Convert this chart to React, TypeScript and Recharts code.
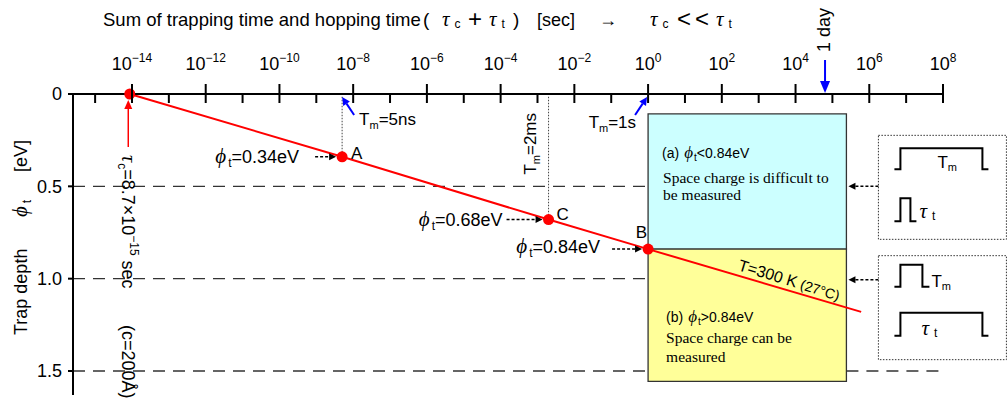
import React from 'react';
import {
  ComposedChart,
  Line,
  XAxis,
  YAxis,
  ReferenceLine,
  ReferenceArea,
  ReferenceDot,
} from 'recharts';

// Time axis: exponents of ten (seconds)
const timeExponents = [-15, -14, -13, -12, -11, -10, -9, -8, -7, -6, -5, -4, -3, -2, -1, 0, 1, 2, 3, 4, 5, 6, 7, 8];
const xDomain: [number, number] = [-15.6, 8];

// Trap depth axis (eV)
const depthTicks = [0, 0.5, 1.0, 1.5];
const depthTickLabels = ['0', '0.5', '1.0', '1.5'];
const gridDepths = [0.5, 1.0, 1.5];
const yDomain: [number, number] = [0, 1.63];

// T = 300 K line: log10(time) against trap depth
const pointNames = ['', 'A', 'C', 'B', ''];
const logTimes = [-14.06, -8.3, -2.7, 0, 5.78];
const trapDepths = [0, 0.34, 0.68, 0.84, 1.18];
const depthLabels = ['', '=0.34eV', '=0.68eV', '=0.84eV', ''];
const measureTimes = ['', '=5ns', '=2ms', '=1s', ''];

// Regions and markers
const logOneDay = 4.8;
const regionTop = 0.108;
const regionBottom = 1.556;
const regionRightLog = 5.38;
const lineLabelLog = 3.73;
const lineLabelDepth = 1.063;

const lineData = logTimes.map((t, i) => ({ logT: t, depth: trapDepths[i] }));

const SANS = "'Liberation Sans', Arial, sans-serif";
const GREEK = "'Liberation Serif', 'DejaVu Serif', serif";
const SERIF = "'Liberation Serif', 'Times New Roman', serif";
const RED = '#ff0000';
const BLUE = '#0000ff';
const PHI = '\u03d5';
const TAU = '\u03c4';

function Arrow({ x1, y1, x2, y2, color, width = 2, dash, head = 9, headW = 4.5 }: any) {
  const ang = Math.atan2(y2 - y1, x2 - x1);
  const bx = x2 - head * Math.cos(ang);
  const by = y2 - head * Math.sin(ang);
  const px = -Math.sin(ang) * headW;
  const py = Math.cos(ang) * headW;
  return (
    <g>
      <line x1={x1} y1={y1} x2={bx} y2={by} stroke={color} strokeWidth={width} strokeDasharray={dash} />
      <polygon points={`${x2},${y2} ${bx + px},${by + py} ${bx - px},${by - py}`} fill={color} />
    </g>
  );
}

function TimeTick(props: any) {
  const { x, y, payload } = props;
  const v = payload.value as number;
  const major = Math.abs(v) % 2 === 0;
  const sup = v < 0 ? `\u2212${Math.abs(v)}` : `${v}`;
  return (
    <g>
      <line x1={x} x2={x} y1={major ? y - 10 : y} y2={y + 9} stroke="#000" strokeWidth={2} />
      {major && (
        <text x={x} y={y - 24} textAnchor="middle" fontSize={18} fontFamily={SANS} fill="#000">
          10
          <tspan fontSize={12} dy={-8}>{sup}</tspan>
        </text>
      )}
    </g>
  );
}

function DepthTick(props: any) {
  const { x, y, payload } = props;
  const idx = depthTicks.indexOf(payload.value);
  return (
    <g>
      <line x1={x - 5} x2={x} y1={y} y2={y} stroke="#000" strokeWidth={2} />
      <text x={x - 11} y={y} dy="0.35em" textAnchor="end" fontSize={18} fontFamily={SANS} fill="#000">
        {depthTickLabels[idx]}
      </text>
    </g>
  );
}

function Pulse({ x0, x1, x2, x3, top, base }: any) {
  return (
    <polyline
      points={`${x0},${base} ${x1},${base} ${x1},${top} ${x2},${top} ${x2},${base} ${x3},${base}`}
      fill="none"
      stroke="#000"
      strokeWidth={2}
    />
  );
}

function PhiLabel({ x, y, text, anchor = 'end' }: any) {
  return (
    <text x={x} y={y} dy="0.35em" textAnchor={anchor} fontSize={18} fontFamily={SANS} fill="#000">
      <tspan fontFamily={GREEK} fontStyle="italic" fontSize={21}>{PHI}</tspan>
      <tspan fontSize={12} dx={2} dy={4}>t</tspan>
      <tspan dy={-4}>{text}</tspan>
    </text>
  );
}

function TauSub({ x, y, sub, size = 21 }: any) {
  return (
    <text x={x} y={y} fontSize={size} fontFamily={GREEK} fontStyle="italic" fill="#000">
      {TAU}
      <tspan fontSize={12} fontFamily={SANS} fontStyle="normal" dx={5} dy={2}>{sub}</tspan>
    </text>
  );
}

export default function App() {
  return (
    <div style={{ position: 'absolute', left: 0, top: 0, width: 1008, height: 403, background: '#fff' }}>
      <ComposedChart
        width={1008}
        height={403}
        data={lineData}
        margin={{ top: 93, right: 65, bottom: 8, left: 72 }}
      >
        <XAxis
          type="number"
          dataKey="logT"
          orientation="top"
          domain={xDomain}
          ticks={timeExponents}
          interval={0}
          height={1}
          tickSize={0}
          tickMargin={0}
          tickLine={false}
          axisLine={{ stroke: '#000', strokeWidth: 2 }}
          tick={(p: any) => <TimeTick {...p} />}
        />
        <YAxis
          type="number"
          domain={yDomain}
          reversed
          ticks={depthTicks}
          interval={0}
          width={1}
          tickSize={0}
          tickMargin={0}
          tickLine={false}
          axisLine={{ stroke: '#000', strokeWidth: 2 }}
          tick={(p: any) => <DepthTick {...p} />}
        />

        {/* dashed depth guides */}
        {gridDepths.map((d) => (
          <ReferenceLine
            key={`g${d}`}
            segment={[{ x: xDomain[0], y: d }, { x: 0, y: d }]}
            stroke="#333"
            strokeWidth={1.3}
            strokeDasharray="12 8"
            ifOverflow="visible"
          />
        ))}
        <ReferenceLine
          segment={[{ x: regionRightLog, y: 1.5 }, { x: xDomain[1], y: 1.5 }]}
          stroke="#333"
          strokeWidth={1.3}
          strokeDasharray="12 8"
          ifOverflow="visible"
        />

        {/* measurement regions */}
        <ReferenceArea
          x1={0}
          x2={regionRightLog}
          y1={regionTop}
          y2={trapDepths[3]}
          fill="#ccffff"
          fillOpacity={1}
          stroke="#333"
          strokeWidth={1.3}
          ifOverflow="visible"
        />
        <ReferenceArea
          x1={0}
          x2={regionRightLog}
          y1={trapDepths[3]}
          y2={regionBottom}
          fill="#ffff99"
          fillOpacity={1}
          stroke="#333"
          strokeWidth={1.3}
          ifOverflow="visible"
        />

        {/* dotted guides from A and C to the time axis */}
        {[1, 2].map((i) => (
          <ReferenceLine
            key={`v${i}`}
            segment={[{ x: logTimes[i], y: 0.015 }, { x: logTimes[i], y: trapDepths[i] }]}
            stroke="#444"
            strokeWidth={1}
            strokeDasharray="1.5 1.5"
            ifOverflow="visible"
          />
        ))}

        <Line
          type="linear"
          dataKey="depth"
          stroke={RED}
          strokeWidth={2}
          isAnimationActive={false}
          dot={(p: any) =>
            p.index < 4 ? (
              <circle key={`d${p.index}`} cx={p.cx} cy={p.cy} r={5.5} fill={RED} stroke="none" />
            ) : (
              <g key={`d${p.index}`} />
            )
          }
          activeDot={false}
        />

        {/* tau_c marker at the start of the line */}
        <ReferenceDot
          x={logTimes[0]}
          y={trapDepths[0]}
          ifOverflow="visible"
          shape={(p: any) => (
            <g>
              <Arrow x1={p.cx - 1.5} y1={p.cy + 53} x2={p.cx - 1.5} y2={p.cy + 6} color={RED} width={1.5} head={9} headW={4} />
              <text
                transform={`translate(${p.cx - 8},${p.cy + 61}) rotate(90)`}
                fontSize={18}
                fontFamily={SANS}
                fill="#000"
              >
                <tspan fontFamily={GREEK} fontStyle="italic" fontSize={20}>{TAU}</tspan>
                <tspan fontSize={12} dx={1} dy={4}>c</tspan>
                <tspan dy={-4}>=8.7×10</tspan>
                <tspan fontSize={12} dy={-8}>{'\u221215'}</tspan>
                <tspan dy={8}> sec</tspan>
                <tspan x={170}>(c=200Å)</tspan>
              </text>
            </g>
          )}
        />

        {/* A : phi label, point letter, Tm = 5ns */}
        <ReferenceDot
          x={logTimes[1]}
          y={trapDepths[1]}
          ifOverflow="visible"
          shape={(p: any) => (
            <g>
              <PhiLabel x={p.cx - 43} y={p.cy} text={depthLabels[1]} />
              <Arrow x1={p.cx - 27} y1={p.cy} x2={p.cx - 6} y2={p.cy} color="#000" width={1.5} dash="3 2" head={7} headW={3.5} />
              <text x={p.cx + 9} y={p.cy - 4} dy="0.35em" fontSize={17} fontFamily={SANS} fill="#000">{pointNames[1]}</text>
            </g>
          )}
        />
        <ReferenceDot
          x={logTimes[1]}
          y={0}
          ifOverflow="visible"
          shape={(p: any) => (
            <g>
              <Arrow x1={p.cx + 12} y1={p.cy + 21} x2={p.cx} y2={p.cy + 3} color={BLUE} width={2} head={8} headW={4} />
              <text x={p.cx + 17} y={p.cy + 31} fontSize={17} fontFamily={SANS} fill="#000">
                T<tspan fontSize={11} dy={4}>m</tspan>
                <tspan dy={-4}>{measureTimes[1]}</tspan>
              </text>
            </g>
          )}
        />

        {/* C : phi label, point letter, Tm = 2ms */}
        <ReferenceDot
          x={logTimes[2]}
          y={trapDepths[2]}
          ifOverflow="visible"
          shape={(p: any) => (
            <g>
              <PhiLabel x={p.cx - 46} y={p.cy} text={depthLabels[2]} />
              <Arrow x1={p.cx - 42} y1={p.cy} x2={p.cx - 6} y2={p.cy} color="#000" width={1.5} dash="3 2" head={7} headW={3.5} />
              <text x={p.cx + 8} y={p.cy - 6} dy="0.35em" fontSize={17} fontFamily={SANS} fill="#000">{pointNames[2]}</text>
              <text
                transform={`translate(${p.cx - 13},${p.cy - 45}) rotate(-90)`}
                fontSize={17}
                fontFamily={SANS}
                fill="#000"
              >
                T<tspan fontSize={11} dy={4}>m</tspan>
                <tspan dy={-4}>{measureTimes[2]}</tspan>
              </text>
            </g>
          )}
        />

        {/* B : phi label, point letter */}
        <ReferenceDot
          x={logTimes[3]}
          y={trapDepths[3]}
          ifOverflow="visible"
          shape={(p: any) => (
            <g>
              <PhiLabel x={p.cx - 48} y={p.cy - 2} text={depthLabels[3]} />
              <Arrow x1={p.cx - 36} y1={p.cy} x2={p.cx - 6} y2={p.cy} color="#000" width={1.5} dash="3 2" head={7} headW={3.5} />
              <text x={p.cx - 1} y={p.cy - 17} dy="0.35em" textAnchor="end" fontSize={17} fontFamily={SANS} fill="#000">
                {pointNames[3]}
              </text>
            </g>
          )}
        />

        {/* Tm = 1s */}
        <ReferenceDot
          x={logTimes[3]}
          y={0}
          ifOverflow="visible"
          shape={(p: any) => (
            <g>
              <Arrow x1={p.cx - 13} y1={p.cy + 21} x2={p.cx - 1} y2={p.cy + 3} color={BLUE} width={2} head={8} headW={4} />
              <text x={p.cx - 12} y={p.cy + 34} textAnchor="end" fontSize={17} fontFamily={SANS} fill="#000">
                T<tspan fontSize={11} dy={4}>m</tspan>
                <tspan dy={-4}>{measureTimes[3]}</tspan>
              </text>
            </g>
          )}
        />

        {/* 1 day */}
        <ReferenceDot
          x={logOneDay}
          y={0}
          ifOverflow="visible"
          shape={(p: any) => (
            <g>
              <Arrow x1={p.cx} y1={p.cy - 34} x2={p.cx} y2={p.cy - 1} color={BLUE} width={2} head={12} headW={5} />
              <text
                transform={`translate(${p.cx + 5},${p.cy - 42}) rotate(-90)`}
                fontSize={18}
                fontFamily={SANS}
                fill="#000"
              >
                1 day
              </text>
            </g>
          )}
        />

        {/* line temperature label */}
        <ReferenceDot
          x={lineLabelLog}
          y={lineLabelDepth}
          ifOverflow="visible"
          shape={(p: any) => (
            <text
              transform={`translate(${p.cx + 2},${p.cy - 5}) rotate(17)`}
              textAnchor="middle"
              fontSize={16}
              fontFamily={SANS}
              fill="#000"
            >
              T=300 K<tspan fontSize={14}> (27°C)</tspan>
            </text>
          )}
        />

        {/* region (a) text */}
        <ReferenceDot
          x={0}
          y={regionTop}
          ifOverflow="visible"
          shape={(p: any) => (
            <g>
              <text x={p.cx + 14} y={p.cy + 44} fontSize={14} fontFamily={SANS} fill="#000">
                (a)
                <tspan dx={5} fontFamily={GREEK} fontStyle="italic" fontSize={17}>{PHI}</tspan>
                <tspan fontSize={10} dx={1} dy={3}>t</tspan>
                <tspan dy={-3}>&lt;0.84eV</tspan>
              </text>
              <text x={p.cx + 15} y={p.cy + 69} fontSize={15.5} fontFamily={SERIF} fill="#000">
                Space charge is difficult to
              </text>
              <text x={p.cx + 15} y={p.cy + 86} fontSize={15.5} fontFamily={SERIF} fill="#000">
                be measured
              </text>
            </g>
          )}
        />

        {/* region (b) text */}
        <ReferenceDot
          x={0}
          y={trapDepths[3]}
          ifOverflow="visible"
          shape={(p: any) => (
            <g>
              <text x={p.cx + 18} y={p.cy + 73} fontSize={14} fontFamily={SANS} fill="#000">
                (b)
                <tspan dx={5} fontFamily={GREEK} fontStyle="italic" fontSize={17}>{PHI}</tspan>
                <tspan fontSize={10} dx={1} dy={3}>t</tspan>
                <tspan dy={-3}>&gt;0.84eV</tspan>
              </text>
              <text x={p.cx + 18} y={p.cy + 94} fontSize={15.5} fontFamily={SERIF} fill="#000">
                Space charge can be
              </text>
              <text x={p.cx + 18} y={p.cy + 113} fontSize={15.5} fontFamily={SERIF} fill="#000">
                measured
              </text>
            </g>
          )}
        />

        {/* pulse comparison, shallow traps */}
        <ReferenceDot
          x={regionRightLog}
          y={gridDepths[0]}
          ifOverflow="visible"
          shape={(p: any) => (
            <g>
              <rect x={p.cx + 32} y={p.cy - 51} width={128} height={104} fill="#fff" stroke="#333" strokeWidth={1} strokeDasharray="1.5 1.5" />
              <Arrow x1={p.cx + 32} y1={p.cy} x2={p.cx + 2} y2={p.cy} color="#000" width={1.5} dash="3 2" head={7} headW={3.5} />
              <Pulse x0={p.cx + 48} x1={p.cx + 54} x2={p.cx + 136} x3={p.cx + 142} top={p.cy - 38} base={p.cy - 17} />
              <text x={p.cx + 91} y={p.cy - 18} fontSize={17} fontFamily={SANS} fill="#000">
                T<tspan fontSize={11} dy={3}>m</tspan>
              </text>
              <Pulse x0={p.cx + 48} x1={p.cx + 54} x2={p.cx + 64} x3={p.cx + 70} top={p.cy + 12} base={p.cy + 35} />
              <TauSub x={p.cx + 73} y={p.cy + 32} sub="t" />
            </g>
          )}
        />

        {/* pulse comparison, deep traps */}
        <ReferenceDot
          x={regionRightLog}
          y={gridDepths[1]}
          ifOverflow="visible"
          shape={(p: any) => (
            <g>
              <rect x={p.cx + 32} y={p.cy - 23} width={128} height={104} fill="#fff" stroke="#333" strokeWidth={1} strokeDasharray="1.5 1.5" />
              <Arrow x1={p.cx + 32} y1={p.cy + 1} x2={p.cx + 2} y2={p.cy + 1} color="#000" width={1.5} dash="3 2" head={7} headW={3.5} />
              <Pulse x0={p.cx + 48} x1={p.cx + 54} x2={p.cx + 76} x3={p.cx + 83} top={p.cy - 14} base={p.cy + 8} />
              <text x={p.cx + 85} y={p.cy + 8} fontSize={17} fontFamily={SANS} fill="#000">
                T<tspan fontSize={11} dy={3}>m</tspan>
              </text>
              <Pulse x0={p.cx + 48} x1={p.cx + 54} x2={p.cx + 136} x3={p.cx + 142} top={p.cy + 34} base={p.cy + 57} />
              <TauSub x={p.cx + 75} y={p.cy + 56} sub="t" />
            </g>
          )}
        />
      </ComposedChart>

      {/* axis titles */}
      <svg
        width={1008}
        height={403}
        style={{ position: 'absolute', left: 0, top: 0, pointerEvents: 'none' }}
      >
        <text x={103} y={26} fontSize={18.5} fontFamily={SANS} fill="#000">
          Sum of trapping time and hopping time
        </text>
        <text x={423} y={26} fontSize={19} fontFamily={SANS} fill="#000">(</text>
        <TauSub x={442} y={26} sub="c" />
        <text x={468} y={27} fontSize={24} fontFamily={SANS} fill="#000">+</text>
        <TauSub x={489} y={26} sub="t" />
        <text x={513} y={26} fontSize={19} fontFamily={SANS} fill="#000">)</text>
        <text x={537} y={26} fontSize={18} fontFamily={SANS} fill="#000">[sec]</text>
        <text x={599} y={26} fontSize={18} fontFamily={SANS} fill="#000">→</text>
        <TauSub x={650} y={26} sub="c" />
        <text x={677} y={27} fontSize={24} fontFamily={SANS} fill="#000">&lt;</text>
        <text x={695} y={27} fontSize={24} fontFamily={SANS} fill="#000">&lt;</text>
        <TauSub x={716} y={26} sub="t" />

        <text transform="translate(27,335) rotate(-90)" fontSize={18} fontFamily={SANS} fill="#000">
          Trap depth
          <tspan x={118} fontFamily={GREEK} fontStyle="italic" fontSize={21}>{PHI}</tspan>
          <tspan fontSize={12} dx={3} dy={4}>t</tspan>
          <tspan x={163} dy={-4}>[eV]</tspan>
        </text>
      </svg>
    </div>
  );
}
